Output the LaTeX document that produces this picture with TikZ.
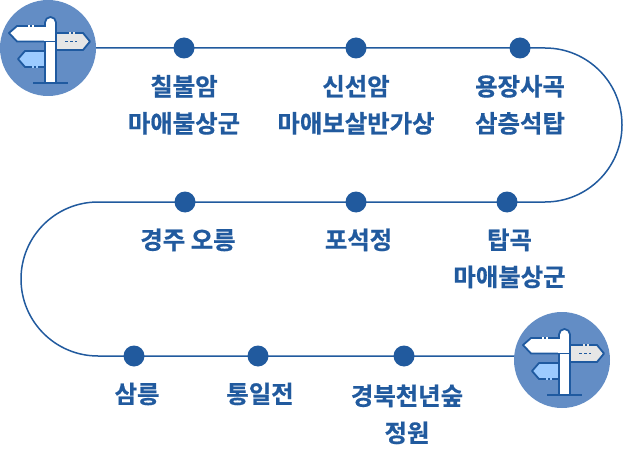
\documentclass[tikz,border=0pt]{standalone}
\usetikzlibrary{backgrounds}
\usepackage{fontspec}
\newfontfamily\krfont{Noto Sans CJK KR}[BoldFont={Noto Sans CJK KR Bold},BoldFeatures={FakeBold=0.6}]
\definecolor{routeblue}{HTML}{215A9E}
\definecolor{discblue}{HTML}{638DC5}
\definecolor{signdark}{HTML}{1F5AA0}
\definecolor{signgrey}{HTML}{E6E6E6}
\definecolor{signlight}{HTML}{9CCBFF}
\tikzset{
  x=1pt,y=-1pt,
  route/.style={draw=routeblue,line width=1.5pt},
  disc/.style={circle,fill=discblue,inner sep=0pt,minimum size=96pt},
  stopdot/.style={circle,fill=routeblue,inner sep=0pt,minimum size=21pt},
  stoplabel/.style={text=routeblue,font=\krfont\bfseries\fontsize{24.4}{37}\selectfont,align=center,anchor=base,inner sep=0pt},
  sign/.style={draw=signdark,line width=1.8pt,line join=round},
  notch/.style={line width=1.9pt,line cap=butt},
}
\newcommand{\signpost}[2]{%
  \begin{scope}[shift={(#1,#2)}]
    \path[sign,fill=signgrey] (8,-15) -- (35,-15) -- (42,-6.5) -- (35,2) -- (8,2) -- cycle;
    \draw[signdark,line width=1.6pt,dash pattern=on 3pt off 2pt] (17,-6.5) -- (29,-6.5);
    \draw[notch,signgrey] (21,-15) -- (23,-15) (25,-15) -- (27,-15);
    \path[sign,fill=white] (5,-6.5) -- (-31,-6.5) -- (-39,-15) -- (-31,-22) -- (-3,-22);
    \draw[notch,white] (-20,-22) -- (-18,-22) (-16,-22) -- (-14,-22);
    \path[sign,fill=signlight] (2,3) -- (-23,3) -- (-30,11) -- (-23,19) -- (2,19) -- cycle;
    \draw[notch,signlight] (-16,19) -- (-14,19) (-12,19) -- (-10,19);
    \path[sign,fill=white] (-3,35) -- (-3,-25.5) arc[start angle=180,end angle=360,radius=5.5] -- (8,35);
    \fill[white] (-4.2,-21) rectangle (-1.8,-7.4);
    \draw[signdark,line width=1.6pt] (-3,-6.5) -- (8,-6.5);
    \draw[signdark,line width=1.8pt] (-15,35) -- (20,35);
  \end{scope}%
}
\begin{document}
\begin{tikzpicture}
\useasboundingbox (0,0) rectangle (631,473);
\node[disc] (s) at (48,48) {};
\node[disc] (e) at (562,360) {};
\node[stopdot] (d1) at (184,48) {};
\node[stopdot] (d2) at (356,48) {};
\node[stopdot] (d3) at (520,48) {};
\node[stopdot] (d4) at (507,202) {};
\node[stopdot] (d5) at (356,202) {};
\node[stopdot] (d6) at (185,202) {};
\node[stopdot] (d7) at (134,356) {};
\node[stopdot] (d8) at (258,356) {};
\node[stopdot] (d9) at (404,356) {};
\coordinate (tr) at (545,48);
\coordinate (bl) at (98,202);
\coordinate (lineend) at (515,356);
\begin{pgfonlayer}{background}
\draw[route] (s.east) -- (d1.center) -- (d2.center) -- (d3.center) -- (tr)
  arc[start angle=-90,end angle=90,radius=77] -- (d4.center) -- (d5.center) -- (d6.center) -- (bl)
  arc[start angle=-90,end angle=-270,radius=77] -- (d7.center) -- (d8.center) -- (d9.center) -- (lineend);
\end{pgfonlayer}
\signpost{48}{48}
\signpost{562}{360}
\node[stoplabel] (l1) at (184,132.5) {칠불암\\마애불상군};
\node[stoplabel] (l2) at (356,132.5) {신선암\\마애보살반가상};
\node[stoplabel] (l3) at (520,132.5) {용장사곡\\삼층석탑};
\node[stoplabel] (l4) at (188,249) {경주 오릉};
\node[stoplabel] (l5) at (358.5,249) {포석정};
\node[stoplabel] (l6) at (509.5,286) {탑곡\\마애불상군};
\node[stoplabel] (l7) at (137,403) {삼릉};
\node[stoplabel] (l8) at (260,403) {통일전};
\node[stoplabel] (l9) at (407,442) {경북천년숲\\정원};
\end{tikzpicture}
\end{document}
